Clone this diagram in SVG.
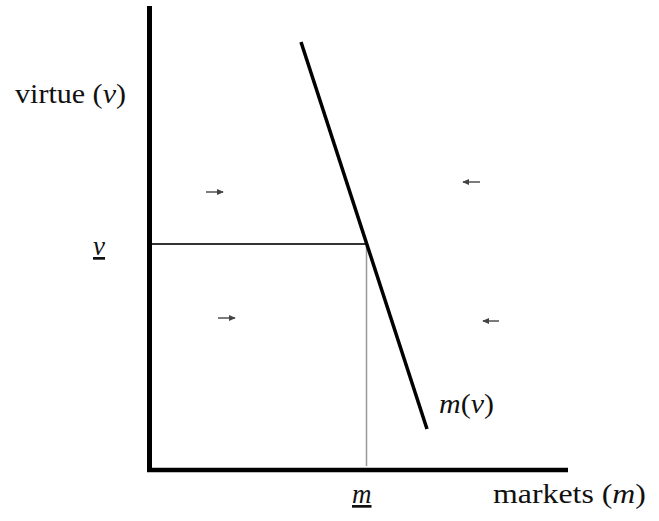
<svg xmlns="http://www.w3.org/2000/svg" width="659" height="521" viewBox="0 0 659 521">
<defs>
<style>
.lbl{font-family:'Liberation Serif','Times New Roman',Times,serif;fill:#111;}
.it{font-style:italic;}
.axis{stroke:#000;stroke-width:5;fill:none;}
.arr{stroke:#444;stroke-width:1.4;fill:none;}
</style>
<marker id="ah" viewBox="0 0 8 8" refX="7" refY="4" markerWidth="7" markerHeight="7" markerUnits="userSpaceOnUse" orient="auto">
<path d="M0,0.5 L8,4 L0,7.5 Z" fill="#444"/>
</marker>
</defs>
<rect width="659" height="521" fill="#fff"/>
<g id="axes">
<line class="axis" x1="149.5" y1="6" x2="149.5" y2="472"/>
<line x1="147" y1="470" x2="568" y2="470" stroke="#000" stroke-width="4.5"/>
</g>
<g id="connectors">
<line x1="152" y1="244" x2="367" y2="244" stroke="#333" stroke-width="2"/>
<line x1="366.5" y1="245" x2="366.5" y2="466" stroke="#999" stroke-width="1.5"/>
<line x1="301" y1="42" x2="427" y2="429" stroke="#000" stroke-width="3.5"/>
</g>
<g id="arrows">
<line class="arr" x1="206" y1="192" x2="223" y2="192" marker-end="url(#ah)"/>
<line class="arr" x1="218" y1="318" x2="235" y2="318" marker-end="url(#ah)"/>
<line class="arr" x1="480" y1="182" x2="463" y2="182" marker-end="url(#ah)"/>
<line class="arr" x1="499" y1="321" x2="483" y2="321" marker-end="url(#ah)"/>
</g>
<g id="label-virtue">
<text class="lbl" x="15" y="103" font-size="27" textLength="111" lengthAdjust="spacingAndGlyphs">virtue (<tspan class="it">v</tspan>)</text>
</g>
<g id="label-vbar">
<text class="lbl it" x="93" y="255" font-size="27" text-decoration="underline">v</text>
</g>
<g id="label-markets">
<text class="lbl" x="493" y="503" font-size="27" textLength="153" lengthAdjust="spacingAndGlyphs">markets (<tspan class="it">m</tspan>)</text>
</g>
<g id="label-mbar">
<text class="lbl it" x="352" y="503" font-size="27" text-decoration="underline">m</text>
</g>
<g id="label-mv">
<text class="lbl" x="439" y="413" font-size="28" textLength="55" lengthAdjust="spacingAndGlyphs"><tspan class="it">m</tspan>(<tspan class="it">v</tspan>)</text>
</g>
</svg>
